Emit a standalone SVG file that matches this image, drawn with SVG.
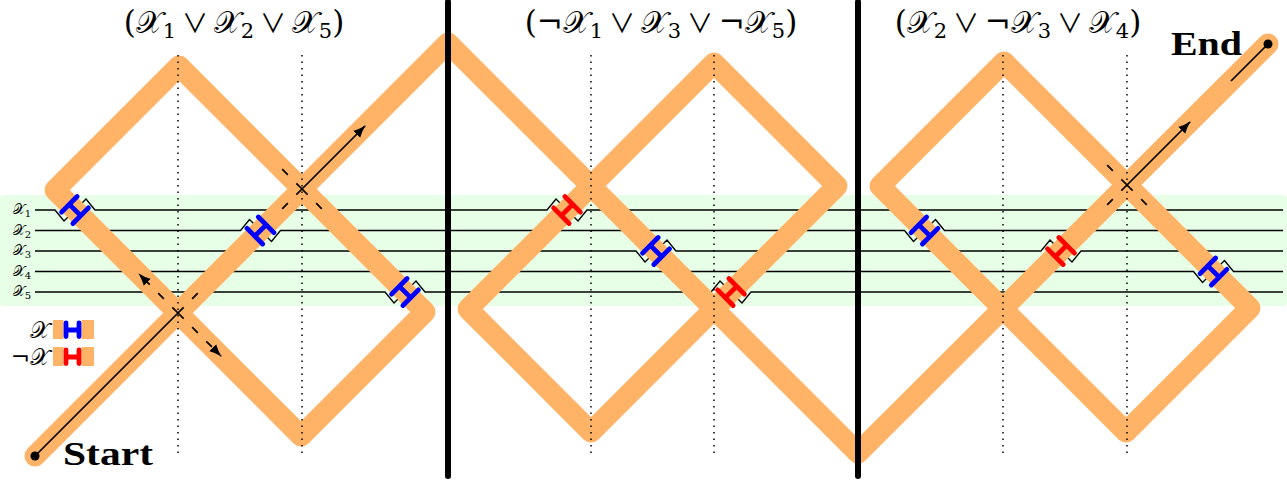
<svg xmlns="http://www.w3.org/2000/svg" xmlns:xlink="http://www.w3.org/1999/xlink" width="1287" height="483" viewBox="0 0 1287 483">
<style>
.band{fill:#E6FFE6}
.var{fill:none;stroke:#000;stroke-width:1.3}
.track{fill:none;stroke:#FFB366;stroke-width:21;stroke-linejoin:round;stroke-linecap:round}
.dot{fill:none;stroke:#000;stroke-width:1.5;stroke-dasharray:1.5 5}
.hb{fill:none;stroke:#0000FF;stroke-width:4.8;stroke-linecap:round}
.hr{fill:none;stroke:#FF0000;stroke-width:4.8;stroke-linecap:round}
.solid{fill:none;stroke:#000;stroke-width:1.7}
.dash{fill:none;stroke:#000;stroke-width:1.7;stroke-dasharray:8 12}
.bar{fill:none;stroke:#000;stroke-width:6;stroke-linecap:round}
.title{font-family:"DejaVu Serif","Liberation Serif",serif;font-size:31px;fill:#000}
.or{font-family:"Noto Sans CJK JP","DejaVu Sans",sans-serif;font-size:26px}
.lbl{font-family:"DejaVu Serif","Liberation Serif",serif;font-size:14px;fill:#000}
.leg{font-family:"DejaVu Serif","Liberation Serif",serif;font-size:23px;fill:#000}
.big{font-family:"Liberation Serif",serif;font-weight:bold;font-size:33px;fill:#000}
</style>
<defs>
<path id="H" d="M-8,-11 V11 M8,-11 V11 M-8,0 H8"/>
<marker id="ah" markerWidth="15" markerHeight="12" refX="12" refY="5.5" orient="auto" markerUnits="userSpaceOnUse">
<path d="M0,0.5 Q6,4 13,5.5 Q6,7 0,10.5 Z" fill="#000"/>
</marker>
</defs>

<rect class="band" x="0" y="195" width="1287" height="111" rx="4"/>

<g id="variable-lines">
<path class="var" d="M35,210 H55 L64,221 L86,199 L95,210 H547 L556,199 L578,221 L587,210 H1283"/>
<path class="var" d="M35,230.5 H240.5 L249.5,219.5 L271.5,241.5 L280.5,230.5 H904.5 L913.5,241.5 L935.5,219.5 L944.5,230.5 H1283"/>
<path class="var" d="M35,251 H636 L645,262 L667,240 L676,251 H1041 L1050,240 L1072,262 L1081,251 H1283"/>
<path class="var" d="M35,271.5 H1193.5 L1202.5,282.5 L1224.5,260.5 L1233.5,271.5 H1283"/>
<path class="var" d="M35,292 H385 L394,303 L416,281 L425,292 H711 L720,281 L742,303 L751,292 H1283"/>
</g>

<g id="var-labels" class="lbl" text-anchor="end">
<text x="31" y="214">𝒳<tspan font-size="10" dy="3">1</tspan></text>
<text x="31" y="234.5">𝒳<tspan font-size="10" dy="3">2</tspan></text>
<text x="31" y="255">𝒳<tspan font-size="10" dy="3">3</tspan></text>
<text x="31" y="275.5">𝒳<tspan font-size="10" dy="3">4</tspan></text>
<text x="31" y="296">𝒳<tspan font-size="10" dy="3">5</tspan></text>
</g>

<g id="tracks">
<path class="track" d="M35,456 L448,43 L858,453 L1268,44"/>
<path class="track" d="M55,190 L179,66 L425,312 L301,436 Z"/>
<path class="track" d="M468,309 L714,63 L837,186 L591,432 Z"/>
<path class="track" d="M880,186 L1004,62 L1250,308 L1126,432 Z"/>
</g>

<g id="dotted-guides">
<line class="dot" x1="178" y1="55" x2="178" y2="455"/>
<line class="dot" x1="302" y1="55" x2="302" y2="455"/>
<line class="dot" x1="591" y1="55" x2="591" y2="455"/>
<line class="dot" x1="714" y1="55" x2="714" y2="455"/>
<line class="dot" x1="1003" y1="55" x2="1003" y2="455"/>
<line class="dot" x1="1127" y1="55" x2="1127" y2="455"/>
</g>

<g id="gadgets">
<use href="#H" class="hb" transform="translate(75,210) rotate(45)"/>
<use href="#H" class="hb" transform="translate(260.5,230.5) rotate(-45)"/>
<use href="#H" class="hb" transform="translate(405,292) rotate(45)"/>
<use href="#H" class="hr" transform="translate(567,210) rotate(-45)"/>
<use href="#H" class="hb" transform="translate(656,251) rotate(45)"/>
<use href="#H" class="hr" transform="translate(731,292) rotate(-45)"/>
<use href="#H" class="hb" transform="translate(924.5,230.5) rotate(45)"/>
<use href="#H" class="hr" transform="translate(1061,251) rotate(-45)"/>
<use href="#H" class="hb" transform="translate(1213.5,271.5) rotate(45)"/>
</g>

<g id="connectors">
<line class="solid" x1="35" y1="456" x2="178" y2="313"/>
<circle cx="35" cy="456" r="4.5" fill="#000"/>
<line class="dash" x1="178" y1="313" x2="139" y2="274" marker-end="url(#ah)"/>
<line class="dash" x1="178" y1="313" x2="221" y2="356" marker-end="url(#ah)"/>
<line class="dash" x1="178" y1="313" x2="198" y2="293"/>
<line class="dash" x1="302" y1="189" x2="282" y2="169"/>
<line class="dash" x1="302" y1="189" x2="322" y2="209"/>
<line class="dash" x1="302" y1="189" x2="282" y2="209"/>
<line class="solid" x1="302" y1="189" x2="365" y2="126" marker-end="url(#ah)"/>
<line class="dash" x1="1127" y1="185" x2="1107" y2="165"/>
<line class="dash" x1="1127" y1="185" x2="1147" y2="205"/>
<line class="dash" x1="1127" y1="185" x2="1107" y2="205"/>
<line class="solid" x1="1127" y1="185" x2="1190" y2="122" marker-end="url(#ah)"/>
<line class="solid" x1="1231" y1="81" x2="1268" y2="44"/>
<circle cx="1268" cy="44" r="4.5" fill="#000"/>
</g>

<g id="separators">
<line class="bar" x1="448" y1="2" x2="448" y2="476"/>
<line class="bar" x1="858" y1="2" x2="858" y2="476"/>
</g>

<g id="legend">
<text class="leg" x="50" y="338" text-anchor="end">𝒳</text>
<rect x="53" y="320" width="10.5" height="19" fill="#FFB366"/>
<rect x="81.5" y="320" width="12.5" height="19" fill="#FFB366"/>
<path class="hb" d="M66,323 V336.5 M79,323 V336.5 M66,330 H79"/>
<text class="leg" x="50" y="365" text-anchor="end">¬𝒳</text>
<rect x="53" y="347" width="10.5" height="19" fill="#FFB366"/>
<rect x="81.5" y="347" width="12.5" height="19" fill="#FFB366"/>
<path class="hr" d="M66,350 V363.5 M79,350 V363.5 M66,357 H79"/>
</g>

<g id="titles" class="title" text-anchor="middle">
<text x="234" y="33">(𝒳<tspan font-size="21" dy="5">1</tspan><tspan dy="-5" class="or"> ∨ </tspan><tspan>𝒳</tspan><tspan font-size="21" dy="5">2</tspan><tspan dy="-5" class="or"> ∨ </tspan><tspan>𝒳</tspan><tspan font-size="21" dy="5">5</tspan><tspan dy="-5">)</tspan></text>
<text x="661" y="33">(¬𝒳<tspan font-size="21" dy="5">1</tspan><tspan dy="-5" class="or"> ∨ </tspan><tspan>𝒳</tspan><tspan font-size="21" dy="5">3</tspan><tspan dy="-5" class="or"> ∨ </tspan><tspan>¬𝒳</tspan><tspan font-size="21" dy="5">5</tspan><tspan dy="-5">)</tspan></text>
<text x="1018" y="33">(𝒳<tspan font-size="21" dy="5">2</tspan><tspan dy="-5" class="or"> ∨ </tspan><tspan>¬𝒳</tspan><tspan font-size="21" dy="5">3</tspan><tspan dy="-5" class="or"> ∨ </tspan><tspan>𝒳</tspan><tspan font-size="21" dy="5">4</tspan><tspan dy="-5">)</tspan></text>
</g>

<g id="start-label"><text class="big" x="63" y="465" textLength="90" lengthAdjust="spacingAndGlyphs">Start</text></g>
<g id="end-label"><text class="big" x="1171" y="55" textLength="71" lengthAdjust="spacingAndGlyphs">End</text></g>
</svg>
